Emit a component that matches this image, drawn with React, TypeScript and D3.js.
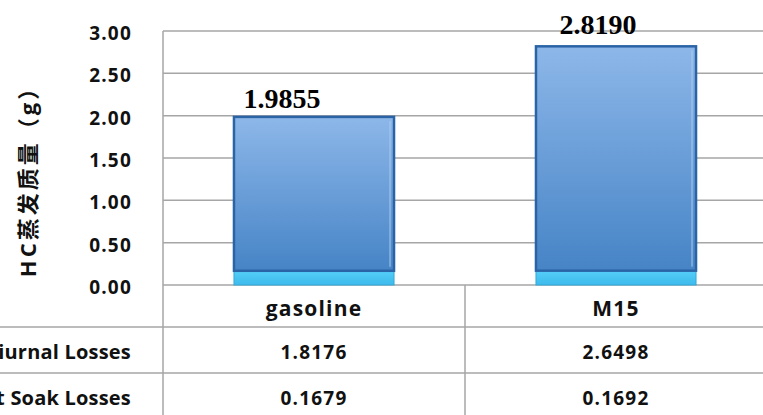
import React from "react";
import * as d3 from "d3";

// Fuels compared in the evaporative emission test
const categories = ["gasoline", "M15"];
// Emission components (grams of HC), stacked bottom-up: hot soak, then diurnal
const hotSoakLosses = [0.1679, 0.1692];
const diurnalLosses = [1.8176, 2.6498];
const seriesNames = ["Diurnal Losses", "Hot Soak Losses"];
const yTicks = [0, 0.5, 1, 1.5, 2, 2.5, 3];

const W = 763;
const H = 415;
const plotLeft = 163;
const plotRight = 767;
const plotTop = 31;
const plotBottom = 285;
const rowLines = [327, 373];
const tableBottom = 419;

const sans = "'Open Sans', Lato, sans-serif";
const gridColor = "#A6A6A6";

// Horizontal / vertical nudge of each total label relative to its bar top centre
const labelShift = [-32, -18];
const labelLift = [9, 12];

export default function App() {
  const y = d3.scaleLinear().domain([0, 3]).range([plotBottom, plotTop]);
  const x = d3.scaleBand().domain(categories).range([plotLeft, plotRight]).padding(0);
  const barW = x.bandwidth() * 0.53;

  const totals = categories.map((_, i) => hotSoakLosses[i] + diurnalLosses[i]);

  const rowCenters = [
    (rowLines[0] + rowLines[1]) / 2,
    (rowLines[1] + tableBottom) / 2,
  ];
  const rowValues = [diurnalLosses, hotSoakLosses];

  const bodyText = {
    fontFamily: sans,
    fontWeight: 700,
    fill: "#111",
  } as const;

  return (
    <div style={{ position: "fixed", left: 0, top: 0, width: W, height: H, background: "#fff" }}>
      <svg width={W} height={H} style={{ display: "block" }}>
        <defs>
          <linearGradient id="diurnalFill" x1="0" y1="0" x2="0" y2="1">
            <stop offset="0%" stopColor="#8DB7E9" />
            <stop offset="100%" stopColor="#4684C6" />
          </linearGradient>
          <linearGradient id="soakFill" x1="0" y1="0" x2="0" y2="1">
            <stop offset="0%" stopColor="#55CEF8" />
            <stop offset="100%" stopColor="#3DBAEC" />
          </linearGradient>
        </defs>

        {/* gridlines */}
        {yTicks.map((t) => (
          <line
            key={t}
            x1={plotLeft}
            x2={W}
            y1={y(t)}
            y2={y(t)}
            stroke={gridColor}
            strokeWidth={1.5}
          />
        ))}

        {/* value axis line continuing into the data table */}
        <line x1={plotLeft} x2={plotLeft} y1={plotTop} y2={H} stroke={gridColor} strokeWidth={1.5} />

        {/* tick labels */}
        {yTicks.map((t) => (
          <text
            key={t}
            x={132}
            y={y(t) + 9}
            textAnchor="end"
            fontSize={19}
            letterSpacing={1.2}
            {...bodyText}
          >
            {d3.format(".2f")(t)}
          </text>
        ))}

        {/* axis title */}
        <text
          transform={`translate(36,176) rotate(-90)`}
          textAnchor="middle"
          fontFamily={`${sans}, 'Noto Sans CJK SC'`}
          fontWeight={700}
          fontSize={22}
          letterSpacing={3}
          fill="#111"
        >
          HC蒸发质量（g）
        </text>

        {/* stacked bars */}
        {categories.map((c, i) => {
          const cx = (x(c) as number) + x.bandwidth() / 2;
          const left = cx - barW / 2;
          const soakTop = y(hotSoakLosses[i]);
          const totalTop = y(totals[i]);
          return (
            <g key={c}>
              <rect
                x={left}
                y={soakTop}
                width={barW}
                height={plotBottom - soakTop}
                fill="url(#soakFill)"
                stroke="#34A9DA"
                strokeWidth={1}
              />
              <rect
                x={left}
                y={totalTop}
                width={barW}
                height={soakTop - totalTop}
                fill="url(#diurnalFill)"
                stroke="#2A64A6"
                strokeWidth={2.5}
              />
              <line
                x1={left + barW - 4}
                x2={left + barW - 4}
                y1={totalTop + 4}
                y2={soakTop - 4}
                stroke="#A9CBF0"
                strokeOpacity={0.5}
                strokeWidth={2}
              />
              <text
                x={cx + labelShift[i]}
                y={totalTop - labelLift[i]}
                textAnchor="middle"
                fontFamily="'Liberation Serif', 'Times New Roman', serif"
                fontWeight={700}
                fontSize={28}
                fill="#000"
              >
                {d3.format(".4f")(totals[i])}
              </text>
            </g>
          );
        })}

        {/* data table */}
        {rowLines.map((ry) => (
          <line key={ry} x1={0} x2={W} y1={ry} y2={ry} stroke={gridColor} strokeWidth={1.5} />
        ))}
        <line
          x1={x(categories[1]) as number}
          x2={x(categories[1]) as number}
          y1={plotBottom}
          y2={H}
          stroke={gridColor}
          strokeWidth={1.5}
        />

        {categories.map((c) => (
          <text
            key={c}
            x={(x(c) as number) + x.bandwidth() / 2}
            y={316}
            textAnchor="middle"
            fontSize={21}
            letterSpacing={1.2}
            {...bodyText}
          >
            {c}
          </text>
        ))}

        {seriesNames.map((name, r) => (
          <g key={name}>
            <text
              x={131}
              y={rowCenters[r] + 9}
              textAnchor="end"
              fontSize={20}
              letterSpacing={0.2}
              {...bodyText}
            >
              {name}
            </text>
            {categories.map((c, i) => (
              <text
                key={c}
                x={(x(c) as number) + x.bandwidth() / 2}
                y={rowCenters[r] + 9}
                textAnchor="middle"
                fontSize={19}
                letterSpacing={1.2}
                {...bodyText}
              >
                {d3.format(".4f")(rowValues[r][i])}
              </text>
            ))}
          </g>
        ))}
      </svg>
    </div>
  );
}
